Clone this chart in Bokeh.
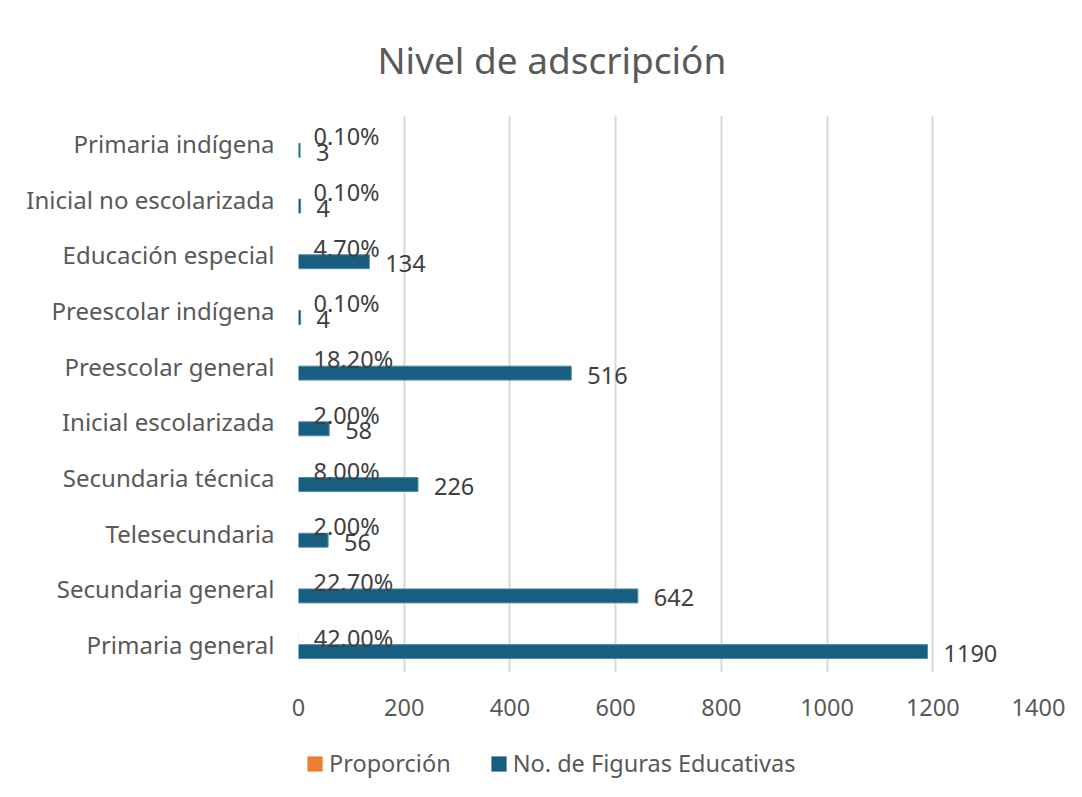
from bokeh.plotting import figure
from bokeh.layouts import column
from bokeh.models import ColumnDataSource, FactorRange, Range1d, FixedTicker, Legend, LegendItem
from bokeh.transform import dodge
from bokeh.core.properties import value
from bokeh.embed import file_html
from bokeh.resources import INLINE

# Data (top to bottom as displayed)
categories = ["Primaria indígena", "Inicial no escolarizada", "Educación especial",
              "Preescolar indígena", "Preescolar general", "Inicial escolarizada",
              "Secundaria técnica", "Telesecundaria", "Secundaria general", "Primaria general"]
figuras = [3, 4, 134, 4, 516, 58, 226, 56, 642, 1190]
proporcion = [0.001, 0.001, 0.047, 0.001, 0.182, 0.020, 0.080, 0.020, 0.227, 0.420]
x_ticks = [0, 200, 400, 600, 800, 1000, 1200, 1400]
series_names = ["Proporción", "No. de Figuras Educativas"]

FONT = "Noto Sans"
TEXT = "#595959"
LABEL = "#404040"
TEAL = "#175e80"
ORANGE = "#ed7d31"

src = ColumnDataSource(dict(
    cat=categories,
    fig=figuras,
    prop=proporcion,
    fig_lbl=[str(v) for v in figuras],
    prop_lbl=[f"{v*100:.2f}%" for v in proporcion],
))

yr = FactorRange(factors=categories[::-1])

p = figure(width=1074, height=730,
           y_range=yr,
           x_range=Range1d(0, 1400),
           output_backend="svg", toolbar_location=None,
           min_border_left=298, min_border_right=36,
           min_border_top=114, min_border_bottom=58)

p.title.text = "Nivel de adscripción"
p.title.align = "left"
p.title.offset = 79
p.title.text_font = FONT
p.title.text_font_size = "37px"
p.title.text_font_style = "normal"
p.title.text_color = TEXT
p.title.standoff = 62

p.hbar(y=dodge("cat", 0.125, range=yr), right="prop", left=0, height=0.25,
       source=src, fill_color=ORANGE, line_color=None)
p.hbar(y=dodge("cat", -0.125, range=yr), right="fig", left=0, height=0.25,
       source=src, fill_color=TEAL, line_color="#4f8aa8", line_width=1)

p.text(x="prop", y=dodge("cat", 0.125, range=yr), text="prop_lbl", source=src,
       x_offset=15, text_baseline="middle", text_align="left",
       text_font=value(FONT), text_font_size="23.5px", text_color=LABEL)
p.text(x="fig", y=dodge("cat", -0.125, range=yr), text="fig_lbl", source=src,
       x_offset=16, y_offset=2, text_baseline="middle", text_align="left",
       text_font=value(FONT), text_font_size="23.5px", text_color=LABEL)

# axes
p.xaxis.ticker = FixedTicker(ticks=x_ticks)
for ax in (p.xaxis[0], p.yaxis[0]):
    ax.axis_line_color = None
    ax.major_tick_line_color = None
    ax.minor_tick_line_color = None
    ax.major_label_text_font = FONT
    ax.major_label_text_color = TEXT
p.xaxis.major_label_text_font_size = "23.5px"
p.yaxis.major_label_text_font_size = "24px"
p.xaxis.major_label_standoff = 20
p.yaxis.major_label_standoff = 18

p.xgrid.grid_line_color = "#d9d9d9"
p.xgrid.grid_line_width = 2
p.ygrid.grid_line_color = None
p.outline_line_color = None
p.background_fill_color = "white"
p.border_fill_color = "white"

# legend strip (its frame aligns with the main frame in the column)
lf = figure(width=1074, height=59, x_range=p.x_range, y_range=yr,
            output_backend="svg", toolbar_location=None,
            min_border_left=298, min_border_right=36,
            min_border_top=0, min_border_bottom=0)
lf.axis.visible = False
lf.grid.visible = False
lf.outline_line_color = None
lf.background_fill_color = "white"
lf.border_fill_color = "white"
lr1 = lf.hbar(y="cat", right="prop", left=0, height=0.25, source=src,
              fill_color=ORANGE, line_color=None, visible=False)
lr2 = lf.hbar(y="cat", right="fig", left=0, height=0.25, source=src,
              fill_color=TEAL, line_color=None, visible=False)

legend = Legend(items=[LegendItem(label=series_names[0], renderers=[lr1]),
                       LegendItem(label=series_names[1], renderers=[lr2])],
                orientation="horizontal", location=(7, 10),
                glyph_width=19, glyph_height=19, label_standoff=5, spacing=38,
                padding=0, margin=0, border_line_color=None, background_fill_alpha=0,
                inactive_fill_alpha=0,
                label_text_font=FONT, label_text_font_size="23.5px", label_text_color=TEXT)
lf.add_layout(legend, "center")

layout = column(p, lf, spacing=0)
open("out.html", "w").write(file_html(layout, INLINE))
